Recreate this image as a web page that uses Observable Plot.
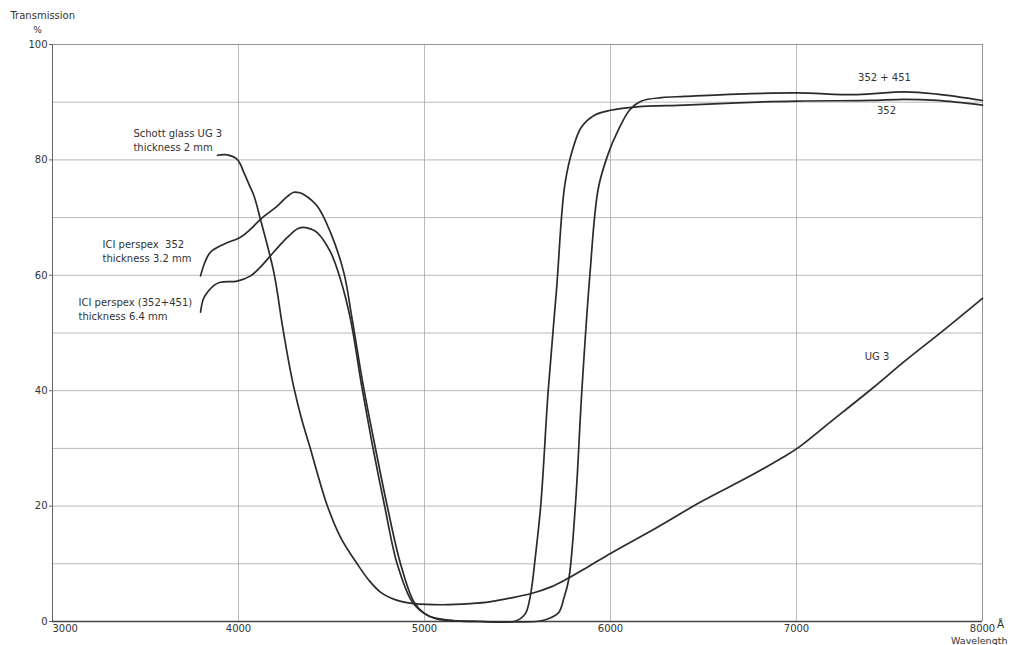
<!DOCTYPE html>
<html>
<head>
<meta charset="utf-8">
<script src="https://cdn.jsdelivr.net/npm/d3@7"></script>
<script src="https://cdn.jsdelivr.net/npm/@observablehq/plot@0.6"></script>
<style>
  body { margin: 0; background: #fff; }
  #chart svg { display: block; }
</style>
</head>
<body>
<div id="chart"></div>
<script>
// Schott glass UG 3, thickness 2 mm
const ug3Wave  = [3887, 3930, 3993, 4029, 4060, 4083, 4118, 4190, 4235, 4270, 4298, 4340, 4387, 4430, 4477, 4550, 4638, 4700, 4763, 4850, 4943, 5100, 5247, 5350, 5450, 5570, 5680, 5767, 5880, 6000, 6250, 6484, 6750, 6914, 7004, 7183, 7415, 7577, 7792, 8000];
const ug3Trans = [80.8, 80.9, 80.1, 77.8, 75.5, 73.8, 69.7, 60.5, 51.5, 45.0, 40.5, 35.0, 29.9, 25.0, 20.1, 14.5, 10.0, 7.2, 5.1, 3.7, 3.1, 2.9, 3.1, 3.4, 4.0, 4.8, 6.0, 7.4, 9.5, 11.8, 16.3, 20.7, 25.2, 28.2, 30.0, 34.6, 40.6, 45.0, 50.5, 56.0];

// ICI perspex 352, thickness 3.2 mm
const p352Wave  = [3796, 3820, 3849, 3921, 4011, 4065, 4118, 4208, 4260, 4297, 4330, 4351, 4423, 4495, 4566, 4611, 4674, 4737, 4799, 4871, 4943, 5000, 5060, 5176, 5300, 5480, 5516, 5545, 5570, 5597, 5626, 5665, 5710, 5754, 5799, 5844, 5916, 6000, 6143, 6400, 6681, 7000, 7398, 7577, 7756, 8000];
const p352Trans = [59.9, 62.3, 64.0, 65.4, 66.6, 68.0, 69.7, 72.0, 73.6, 74.4, 74.3, 74.0, 72.0, 67.4, 60.5, 52.4, 40.3, 29.9, 20.1, 10.0, 3.4, 1.4, 0.5, 0.1, 0, 0, 0.5, 1.5, 4.6, 11.5, 20.5, 40.0, 57.6, 75.6, 82.1, 85.7, 87.8, 88.6, 89.2, 89.5, 89.9, 90.2, 90.3, 90.5, 90.3, 89.5];

// ICI perspex (352+451), thickness 6.4 mm
const p352451Wave  = [3796, 3810, 3832, 3870, 3903, 3993, 4065, 4120, 4172, 4230, 4280, 4320, 4351, 4390, 4423, 4495, 4548, 4602, 4665, 4724, 4785, 4853, 4934, 5014, 5140, 5300, 5600, 5650, 5720, 5749, 5776, 5812, 5846, 5889, 5934, 5987, 6041, 6104, 6167, 6274, 6400, 6681, 7000, 7326, 7577, 7756, 8000];
const p352451Trans = [53.6, 55.8, 57.0, 58.3, 58.8, 59.0, 59.9, 61.5, 63.4, 65.5, 67.1, 68.1, 68.3, 68.0, 67.4, 64.0, 59.3, 52.4, 40.3, 29.9, 20.1, 10.0, 3.4, 1.1, 0.2, 0, 0, 0.3, 1.5, 4.0, 7.4, 20.5, 40.0, 60.0, 75.0, 81.0, 85.1, 88.7, 90.2, 90.8, 91.0, 91.4, 91.6, 91.3, 91.8, 91.4, 90.3];

// Axis ticks
const yTicks = [0, 20, 40, 60, 80, 100];
const yGrid = [10, 20, 30, 40, 50, 60, 70, 80, 90];
const xFirstTick = [3000];
const xTicks = [4000, 5000, 6000, 7000, 8000];
const xGrid = [4000, 5000, 6000, 7000];

// Curve labels (text, wavelength, transmission)
const curveLabelText  = ["Schott glass UG 3\nthickness 2 mm", "ICI perspex  352\nthickness 3.2 mm", "ICI perspex (352+451)\nthickness 6.4 mm"];
const curveLabelWave  = [3435, 3269, 3140];
const curveLabelTrans = [83.5, 64.3, 54.2];
const endLabelText  = ["352 + 451", "352", "UG 3"];
const endLabelWave  = [7473, 7484, 7433];
const endLabelTrans = [94.2, 88.5, 45.8];

const series = [
  {name: "UG 3", w: ug3Wave, t: ug3Trans},
  {name: "352", w: p352Wave, t: p352Trans},
  {name: "352+451", w: p352451Wave, t: p352451Trans}
];
const curveData = series.flatMap(s => s.w.map((w, i) => ({series: s.name, wave: w, trans: s.t[i]})));
const curveLabels = curveLabelText.map((t, i) => ({text: t, wave: curveLabelWave[i], trans: curveLabelTrans[i]}));
const endLabels = endLabelText.map((t, i) => ({text: t, wave: endLabelWave[i], trans: endLabelTrans[i]}));

const FONT = "DejaVu Sans";
const INK = "#2b2b2b";
const GRID = "#a8a8a8";
const fmt = d => String(d);

const chart = Plot.plot({
  width: 1010,
  height: 645,
  marginLeft: 52,
  marginRight: 28,
  marginTop: 44,
  marginBottom: 24,
  style: {fontFamily: FONT, fontSize: "10px", color: "#333", background: "#fff"},
  x: {domain: [3000, 8000], axis: null},
  y: {domain: [0, 100], axis: null},
  marks: [
    Plot.ruleY(yGrid, {stroke: GRID, strokeWidth: 0.8}),
    Plot.ruleX(xGrid, {stroke: GRID, strokeWidth: 0.8}),
    Plot.ruleY([100], {stroke: "#888", strokeWidth: 0.9}),
    Plot.ruleX([8000], {stroke: "#888", strokeWidth: 0.9}),
    Plot.ruleX([3000], {stroke: "#666", strokeWidth: 1}),
    Plot.ruleY([0], {stroke: "#444", strokeWidth: 1.6}),
    Plot.axisY({ticks: yTicks, tickSize: 3, tickPadding: 2, fontSize: 10, stroke: "#666", label: null, tickFormat: fmt}),
    Plot.axisX({ticks: xFirstTick, tickSize: 0, tickPadding: 3, textAnchor: "start", fontSize: 10, label: null, tickFormat: fmt}),
    Plot.axisX({ticks: xTicks, tickSize: 0, tickPadding: 3, fontSize: 10, label: null, tickFormat: fmt}),
    Plot.line(curveData, {x: "wave", y: "trans", z: "series", curve: "catmull-rom", stroke: INK, strokeWidth: 1.7}),
    Plot.text(curveLabels, {x: "wave", y: "trans", text: "text", textAnchor: "start", lineHeight: 1.35, fontSize: 10, fill: "#333"}),
    Plot.text(endLabels, {x: "wave", y: "trans", text: "text", fontSize: 10, fill: "#333"}),
    Plot.text(["Transmission"], {x: 2774, y: 104.9, text: d => d, textAnchor: "start", fontSize: 10, fill: "#333"}),
    Plot.text(["%"], {x: 2919, y: 102.5, text: d => d, fontSize: 9, fill: "#333"}),
    Plot.text(["Å"], {x: 8097, y: -0.6, text: d => d, fontSize: 11, fill: "#333"}),
    Plot.text(["Wavelength"], {x: 8134, y: -3.45, text: d => d, textAnchor: "end", fontSize: 9.5, fill: "#333"})
  ]
});
document.getElementById("chart").append(chart);
</script>
</body>
</html>
